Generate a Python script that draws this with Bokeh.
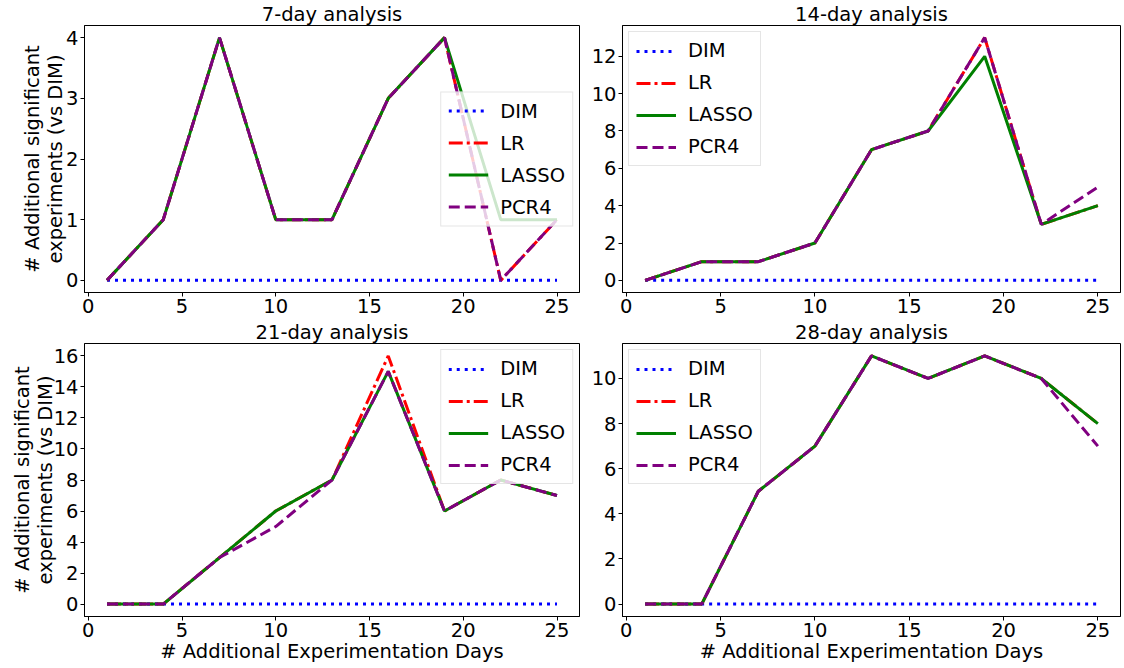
from bokeh.plotting import figure
from bokeh.layouts import column, row
from bokeh.models import FixedTicker, Range1d
from bokeh.embed import file_html
from bokeh.resources import INLINE

days = [1, 4, 7, 10, 13, 16, 19, 22, 25]

dim_7 = [0, 0, 0, 0, 0, 0, 0, 0, 0]
lr_7 = [0, 1, 4, 1, 1, 3, 4, 0, 1]
lasso_7 = [0, 1, 4, 1, 1, 3, 4, 1, 1]
pcr4_7 = [0, 1, 4, 1, 1, 3, 4, 0, 1]

dim_14 = [0, 0, 0, 0, 0, 0, 0, 0, 0]
lr_14 = [0, 1, 1, 2, 7, 8, 13, 3, 4]
lasso_14 = [0, 1, 1, 2, 7, 8, 12, 3, 4]
pcr4_14 = [0, 1, 1, 2, 7, 8, 13, 3, 5]

dim_21 = [0, 0, 0, 0, 0, 0, 0, 0, 0]
lr_21 = [0, 0, 3, 6, 8, 16, 6, 8, 7]
lasso_21 = [0, 0, 3, 6, 8, 15, 6, 8, 7]
pcr4_21 = [0, 0, 3, 5, 8, 15, 6, 8, 7]

dim_28 = [0, 0, 0, 0, 0, 0, 0, 0, 0]
lr_28 = [0, 0, 5, 7, 11, 10, 11, 10, 8]
lasso_28 = [0, 0, 5, 7, 11, 10, 11, 10, 8]
pcr4_28 = [0, 0, 5, 7, 11, 10, 11, 10, 7]

titles = ["7-day analysis", "14-day analysis", "21-day analysis", "28-day analysis"]
x_ticks = [0, 5, 10, 15, 20, 25]
y_ticks_7 = [0, 1, 2, 3, 4]
y_ticks_14 = [0, 2, 4, 6, 8, 10, 12]
y_ticks_21 = [0, 2, 4, 6, 8, 10, 12, 14, 16]
y_ticks_28 = [0, 2, 4, 6, 8, 10]
y_label = "# Additional significant\nexperiments (vs DIM)"
x_label = "# Additional Experimentation Days"

FONT = "DejaVu Sans"
FS = "19.5px"


def make(title, series, yticks, legend_loc, left, bottom, w, h, left_border, right_border, bottom_border, ylab_standoff=4):
    ymax = max(max(s) for s in series)
    pad = ymax * 0.05
    p = figure(width=w, height=h,
               output_backend="svg", toolbar_location=None,
               x_range=Range1d(-0.2, 26.2), y_range=Range1d(-pad, ymax + pad),
               min_border_left=left_border, min_border_right=right_border,
               min_border_top=18, min_border_bottom=bottom_border)
    p.title.text = title
    p.title.text_font = FONT
    p.title.text_font_size = FS
    p.title.text_font_style = "normal"
    p.title.text_color = "black"
    p.title.align = "center"
    p.title.standoff = 0
    p.title.text_line_height = 1.0
    p.outline_line_color = "black"
    p.outline_line_width = 1
    p.grid.visible = False
    for ax in (p.xaxis, p.yaxis):
        ax.major_label_text_font = FONT
        ax.major_label_text_font_size = FS
        ax.major_label_text_color = "black"
        ax.axis_line_color = "black"
        ax.major_tick_line_color = "black"
        ax.major_tick_out = 4
        ax.major_tick_in = 0
        ax.minor_tick_line_color = None
        ax.axis_label_text_font = FONT
        ax.axis_label_text_font_size = FS
        ax.axis_label_text_font_style = "normal"
        ax.axis_label_text_color = "black"
        ax.axis_label_text_line_height = 1.0
    p.xaxis.ticker = FixedTicker(ticks=x_ticks)
    p.yaxis.ticker = FixedTicker(ticks=yticks)
    p.xaxis.major_label_standoff = 2
    p.yaxis.major_label_standoff = 2
    if left:
        p.yaxis.axis_label = y_label
        p.yaxis.axis_label_standoff = ylab_standoff
    if bottom:
        p.xaxis.axis_label = x_label
        p.xaxis.axis_label_standoff = 0

    dim, lr, lasso, pcr4 = series
    p.line(days, dim, color="blue", line_width=3, line_dash="3 5", legend_label="DIM")
    p.line(days, lr, color="red", line_width=3, line_dash="14 4 3 4", legend_label="LR")
    p.line(days, lasso, color="green", line_width=3, legend_label="LASSO")
    p.line(days, pcr4, color="purple", line_width=3, line_dash="11 5", legend_label="PCR4")

    lg = p.legend[0]
    lg.location = legend_loc
    lg.label_text_font = FONT
    lg.label_text_font_size = FS
    lg.label_text_color = "black"
    lg.glyph_width = 40
    lg.glyph_height = 20
    lg.label_standoff = 12
    lg.label_height = 20
    lg.spacing = 9
    lg.padding = 7
    lg.margin = 6
    lg.border_line_color = "#cccccc"
    lg.border_line_width = 1
    lg.background_fill_alpha = 0.8
    return p


p1 = make(titles[0], [dim_7, lr_7, lasso_7, pcr4_7], y_ticks_7, "right", True, False, 582, 318, 84, 3, 26, -4)
p2 = make(titles[1], [dim_14, lr_14, lasso_14, pcr4_14], y_ticks_14, "top_left", False, False, 542, 318, 40, 4, 26)
p3 = make(titles[2], [dim_21, lr_21, lasso_21, pcr4_21], y_ticks_21, "top_right", True, True, 582, 348, 84, 3, 50, -6)
p4 = make(titles[3], [dim_28, lr_28, lasso_28, pcr4_28], y_ticks_28, "top_left", False, True, 542, 348, 40, 4, 50)

layout = column(row(p1, p2), row(p3, p4))
open("out.html", "w").write(file_html(layout, INLINE))
